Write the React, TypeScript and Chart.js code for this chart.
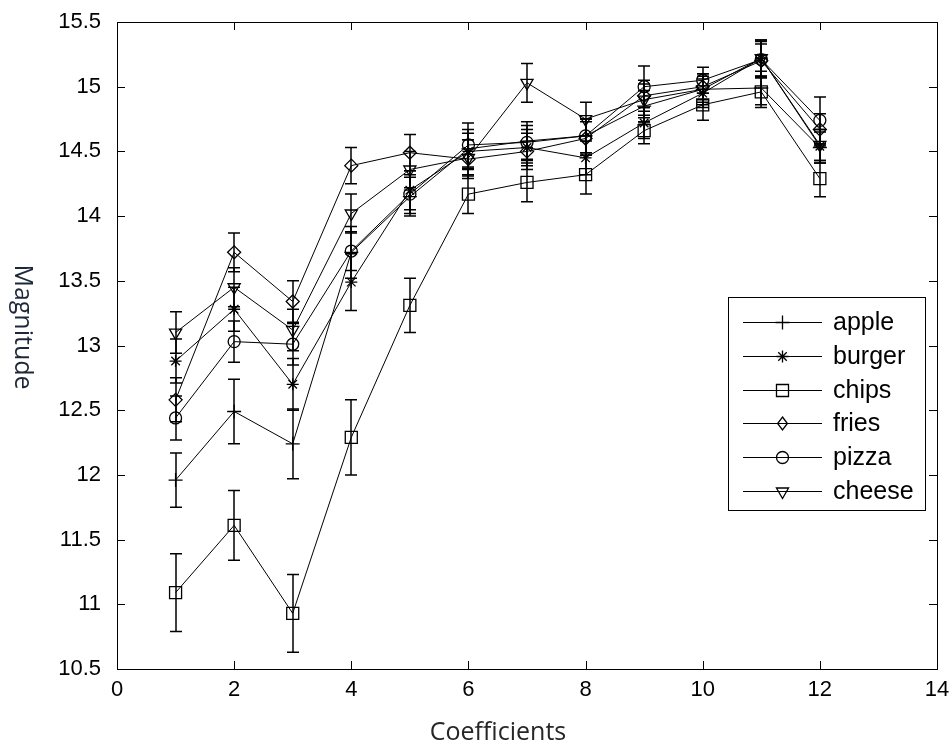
import React, { useEffect, useRef } from "react";
import { Chart, registerables } from "chart.js";

Chart.register(...registerables);

// ---- data ----
const coefficients = [1, 2, 3, 4, 5, 6, 7, 8, 9, 10, 11, 12];
const seriesNames = ["apple", "burger", "chips", "fries", "pizza", "cheese"];

const apple = [11.96, 12.49, 12.24, 13.72, 14.15, 14.52, 14.58, 14.62, 14.85, 14.98, 14.99, 14.53];
const burger = [12.88, 13.28, 12.7, 13.49, 14.2, 14.5, 14.53, 14.45, 14.72, 14.95, 15.22, 14.54];
const chips = [11.09, 11.61, 10.93, 12.29, 13.31, 14.17, 14.26, 14.32, 14.66, 14.86, 14.96, 14.29];
const fries = [12.58, 13.72, 13.34, 14.39, 14.49, 14.44, 14.5, 14.6, 14.93, 15.0, 15.2, 14.67];
const pizza = [12.44, 13.03, 13.01, 13.73, 14.17, 14.55, 14.57, 14.62, 15.0, 15.05, 15.21, 14.74];
const cheese = [13.1, 13.45, 13.12, 14.02, 14.36, 14.45, 15.03, 14.75, 14.9, 14.98, 15.22, 14.55];

const appleErr = [0.21, 0.25, 0.27, 0.2, 0.15, 0.15, 0.15, 0.13, 0.12, 0.12, 0.13, 0.12];
const burgerErr = [0.17, 0.17, 0.2, 0.22, 0.15, 0.14, 0.14, 0.13, 0.12, 0.11, 0.14, 0.13];
const chipsErr = [0.3, 0.27, 0.3, 0.29, 0.21, 0.15, 0.15, 0.15, 0.1, 0.12, 0.12, 0.14];
const friesErr = [0.17, 0.15, 0.16, 0.14, 0.14, 0.15, 0.14, 0.13, 0.12, 0.1, 0.13, 0.12];
const pizzaErr = [0.17, 0.16, 0.16, 0.15, 0.15, 0.17, 0.13, 0.13, 0.16, 0.1, 0.14, 0.18];
const cheeseErr = [0.16, 0.15, 0.16, 0.15, 0.14, 0.14, 0.15, 0.13, 0.12, 0.1, 0.14, 0.12];

const xTicks = [0, 2, 4, 6, 8, 10, 12, 14];
const yTicks = [10.5, 11, 11.5, 12, 12.5, 13, 13.5, 14, 14.5, 15, 15.5];
const xTitle = "Coefficients";
const yTitle = "Magnitude";

const seriesValues = [apple, burger, chips, fries, pizza, cheese];
const seriesErrors = [appleErr, burgerErr, chipsErr, friesErr, pizzaErr, cheeseErr];

// ---- styles ----
type Marker = { style: string; radius: number; rotation: number };
const markers: Marker[] = [
  { style: "cross", radius: 7, rotation: 0 },
  { style: "star", radius: 6, rotation: 0 },
  { style: "rect", radius: 8.5, rotation: 0 },
  { style: "rectRot", radius: 6.5, rotation: 0 },
  { style: "circle", radius: 6, rotation: 0 },
  { style: "triangle", radius: 7, rotation: 180 },
];

const TICK_FONT = '"Liberation Sans", Arial, sans-serif';
const TITLE_FONT = '"Open Sans", "Noto Sans", sans-serif';

function drawMarker(ctx: CanvasRenderingContext2D, m: Marker, x: number, y: number) {
  const r = m.radius;
  ctx.beginPath();
  switch (m.style) {
    case "cross":
      ctx.moveTo(x - r, y);
      ctx.lineTo(x + r, y);
      ctx.moveTo(x, y - r);
      ctx.lineTo(x, y + r);
      break;
    case "star": {
      ctx.moveTo(x - r, y);
      ctx.lineTo(x + r, y);
      ctx.moveTo(x, y - r);
      ctx.lineTo(x, y + r);
      const d = r * Math.SQRT1_2;
      ctx.moveTo(x - d, y - d);
      ctx.lineTo(x + d, y + d);
      ctx.moveTo(x - d, y + d);
      ctx.lineTo(x + d, y - d);
      break;
    }
    case "rect": {
      const s = r * Math.SQRT1_2;
      ctx.rect(x - s, y - s, 2 * s, 2 * s);
      break;
    }
    case "rectRot":
      ctx.moveTo(x, y - r);
      ctx.lineTo(x + r * 0.75, y);
      ctx.lineTo(x, y + r);
      ctx.lineTo(x - r * 0.75, y);
      ctx.closePath();
      break;
    case "circle":
      ctx.arc(x, y, r, 0, Math.PI * 2);
      break;
    case "triangle":
      ctx.moveTo(x - r * 0.866, y - r * 0.5);
      ctx.lineTo(x + r * 0.866, y - r * 0.5);
      ctx.lineTo(x, y + r);
      ctx.closePath();
      break;
  }
  ctx.stroke();
}

const matlabPlugin = {
  id: "matlabLook",
  beforeDatasetsDraw(chart: any) {
    const ctx: CanvasRenderingContext2D = chart.ctx;
    const xs = chart.scales.x;
    const ys = chart.scales.y;
    ctx.save();
    ctx.strokeStyle = "#000";
    ctx.lineWidth = 1.5;
    seriesValues.forEach((vals, i) => {
      const errs = seriesErrors[i];
      vals.forEach((v, j) => {
        const px = Math.round(xs.getPixelForValue(coefficients[j]));
        const top = ys.getPixelForValue(v + errs[j]);
        const bot = ys.getPixelForValue(v - errs[j]);
        ctx.beginPath();
        ctx.moveTo(px, top);
        ctx.lineTo(px, bot);
        ctx.moveTo(px - 6, top);
        ctx.lineTo(px + 6, top);
        ctx.moveTo(px - 6, bot);
        ctx.lineTo(px + 6, bot);
        ctx.stroke();
      });
    });
    ctx.restore();
  },
  afterDraw(chart: any) {
    const ctx: CanvasRenderingContext2D = chart.ctx;
    const a = chart.chartArea;
    const xs = chart.scales.x;
    const ys = chart.scales.y;
    ctx.save();
    ctx.strokeStyle = "#000";
    ctx.lineWidth = 1;
    // box
    ctx.strokeRect(Math.round(a.left) + 0.5, Math.round(a.top) + 0.5, Math.round(a.right - a.left), Math.round(a.bottom - a.top));
    // inward ticks
    const tl = 8;
    ctx.beginPath();
    xTicks.forEach((v) => {
      const px = Math.round(xs.getPixelForValue(v)) + 0.5;
      ctx.moveTo(px, a.bottom);
      ctx.lineTo(px, a.bottom - tl);
      ctx.moveTo(px, a.top);
      ctx.lineTo(px, a.top + tl);
    });
    yTicks.forEach((v) => {
      const py = Math.round(ys.getPixelForValue(v)) + 0.5;
      ctx.moveTo(a.left, py);
      ctx.lineTo(a.left + tl, py);
      ctx.moveTo(a.right, py);
      ctx.lineTo(a.right - tl, py);
    });
    ctx.stroke();

    // axis titles
    ctx.font = `25px ${TITLE_FONT}`;
    ctx.fillStyle = "#262626";
    ctx.textAlign = "center";
    ctx.textBaseline = "middle";
    ctx.fillText(xTitle, a.left + 381, a.bottom + 64);
    ctx.save();
    ctx.translate(a.left - 95, a.top + 305);
    ctx.rotate(Math.PI / 2);
    ctx.fillStyle = "#1c2838";
    ctx.fillText(yTitle, 0, 0);
    ctx.restore();

    // legend
    const lx = a.right - 209;
    const ly = a.top + 275;
    const lw = 197;
    const lh = 213;
    ctx.fillStyle = "#fff";
    ctx.fillRect(lx, ly, lw, lh);
    ctx.strokeStyle = "#000";
    ctx.lineWidth = 1;
    ctx.strokeRect(lx + 0.5, ly + 0.5, lw, lh);
    ctx.font = `25px ${TICK_FONT}`;
    ctx.fillStyle = "#000";
    ctx.textAlign = "left";
    ctx.textBaseline = "middle";
    seriesNames.forEach((name, i) => {
      const ry = Math.round(ly + 25 + i * 33.8) + 0.5;
      ctx.lineWidth = 1;
      ctx.beginPath();
      ctx.moveTo(lx + 15, ry);
      ctx.lineTo(lx + 94, ry);
      ctx.stroke();
      ctx.lineWidth = 1.3;
      drawMarker(ctx, markers[i], lx + 54.5, ry);
      ctx.fillText(name, lx + 105, ry + 1);
    });
    ctx.restore();
  },
};

export default function App() {
  const canvasRef = useRef<HTMLCanvasElement | null>(null);

  useEffect(() => {
    document.body.style.margin = "0";
    const canvas = canvasRef.current;
    if (!canvas) return;
    const datasets = seriesNames.map((name, i) => ({
      label: name,
      data: seriesValues[i].map((v, j) => ({ x: coefficients[j], y: v })),
      borderColor: "#000",
      borderWidth: 1,
      backgroundColor: "rgba(0,0,0,0)",
      pointStyle: markers[i].style as any,
      pointRadius: markers[i].radius,
      pointRotation: markers[i].rotation,
      pointBorderWidth: 1.3,
      pointBorderColor: "#000",
      pointBackgroundColor: "rgba(0,0,0,0)",
      showLine: true,
      tension: 0,
      fill: false,
    }));

    const chart = new Chart(canvas, {
      type: "scatter",
      data: { datasets },
      plugins: [matlabPlugin],
      options: {
        animation: false,
        responsive: true,
        maintainAspectRatio: false,
        layout: { padding: { left: 0, right: 15, top: 22, bottom: 0 } },
        plugins: {
          legend: { display: false },
          tooltip: { enabled: false },
          title: { display: false },
        },
        scales: {
          x: {
            type: "linear",
            min: 0,
            max: 14,
            afterBuildTicks: (s: any) => {
              s.ticks = xTicks.map((v) => ({ value: v }));
            },
            afterFit: (s: any) => {
              s.height = 78;
              s.paddingLeft = 0;
              s.paddingRight = 0;
            },
            grid: { display: false, drawTicks: false, tickLength: 0 },
            border: { display: false },
            ticks: {
              color: "#000",
              padding: 8,
              maxRotation: 0,
              font: { family: TICK_FONT, size: 22 },
              callback: (v: any) => String(v),
            },
          },
          y: {
            type: "linear",
            min: 10.5,
            max: 15.5,
            afterBuildTicks: (s: any) => {
              s.ticks = yTicks.map((v) => ({ value: v }));
            },
            afterFit: (s: any) => {
              s.width = 117;
              s.paddingTop = 0;
              s.paddingBottom = 0;
            },
            grid: { display: false, drawTicks: false, tickLength: 0 },
            border: { display: false },
            ticks: {
              color: "#000",
              padding: 16,
              font: { family: TICK_FONT, size: 22 },
              callback: (v: any) => String(Number(Number(v).toFixed(1))),
            },
          },
        },
      },
    });
    return () => chart.destroy();
  }, []);

  return (
    <div style={{ position: "absolute", left: 0, top: 0, width: 952, height: 747, background: "#fff" }}>
      <canvas ref={canvasRef} />
    </div>
  );
}
